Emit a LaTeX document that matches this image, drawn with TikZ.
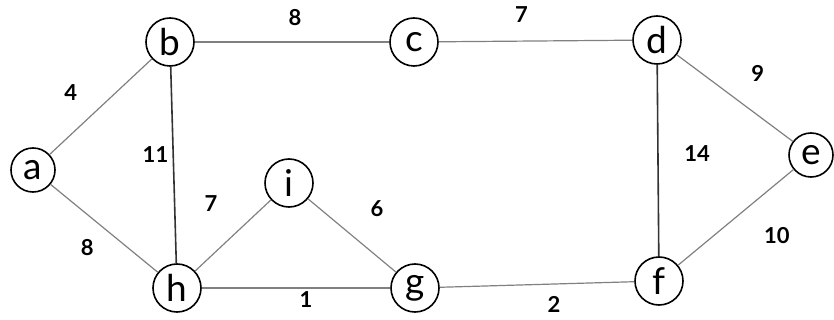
\documentclass[tikz,border=0pt]{standalone}
\usepackage{fontspec}
\setmainfont{Lato}

\begin{document}
\begin{tikzpicture}[
        x=0.5pt, y=-0.5pt,
        vertex/.style={draw, circle, line width=0.8pt, minimum size=24pt, inner sep=0pt,
            font=\fontsize{18.5}{20}\selectfont},
        edge/.style={draw=black!50, line width=0.6pt},
        heavy/.style={draw=black!80, line width=0.8pt},
        wt/.style={font=\fontsize{11}{13}\selectfont\bfseries, inner sep=1pt},
    ]
        \useasboundingbox (0,0) rectangle (834,320);

        \node[vertex, minimum size=22pt] (a) at (33,170) {a};
        \node[vertex] (b) at (170,42) {b};
        \node[vertex] (c) at (414,42) {c};
        \node[vertex] (d) at (657,40) {d};
        \node[vertex, minimum size=22pt] (e) at (811,155) {e};
        \node[vertex] (f) at (659,281) {f};
        \node[vertex] (g) at (415,288) {g};
        \node[vertex] (h) at (177,288) {h};
        \node[vertex] (i) at (289,183) {i};

        \draw[edge] (a) -- node[wt, shift={(-30,-14)}] {4} (b);
        \draw[edge] (a) -- node[wt, shift={(-17,19)}] {8} (h);
        \draw[heavy] (b) -- node[wt, shift={(-18,-10)}] {11} (h);
        \draw[edge] (b) -- node[wt, shift={(3,-24)}] {8} (c);
        \draw[edge] (c) -- node[wt, shift={(-14,-26)}] {7} (d);
        \draw[edge] (d) -- node[wt, shift={(23,-25)}] {9} (e);
        \draw[heavy] (d) -- node[wt, shift={(39,-7)}] {14} (f);
        \draw[edge] (e) -- node[wt, shift={(41,18)}] {10} (f);
        \draw[edge] (h) -- node[wt, shift={(-22,-32)}] {7} (i);
        \draw[edge] (i) -- node[wt, shift={(25,-27)}] {6} (g);
        \draw[edge] (h) -- node[wt, shift={(10,12)}] {1} (g);
        \draw[edge] (g) -- node[wt, shift={(17,20)}] {2} (f);
    \end{tikzpicture}
\end{document}
